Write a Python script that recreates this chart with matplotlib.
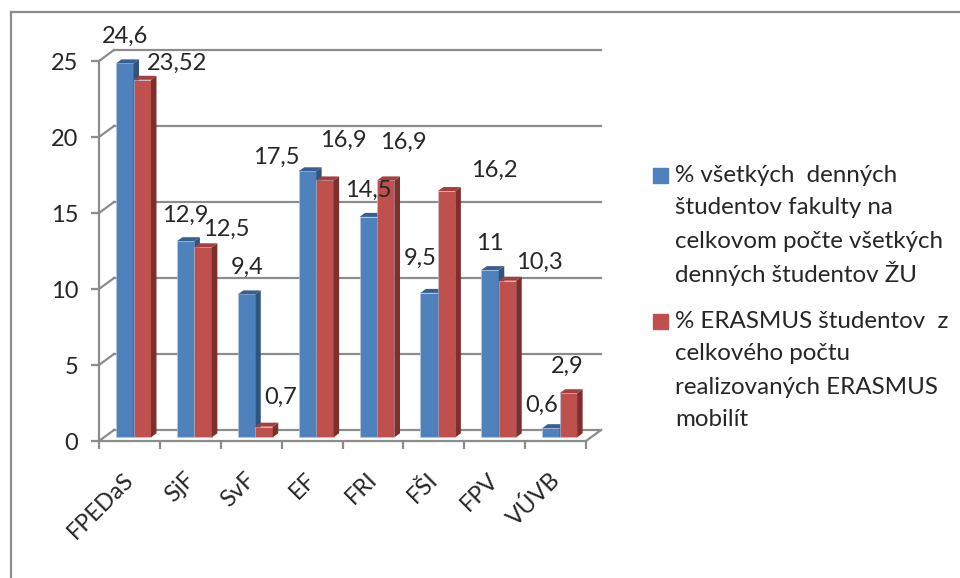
import matplotlib
matplotlib.use('Agg')
import matplotlib.pyplot as plt
from matplotlib.lines import Line2D
from matplotlib.patches import Rectangle

faculties = ['FPEDaS', 'SjF', 'SvF', 'EF', 'FRI', 'FŠI', 'FPV', 'VÚVB']
students = [24.6, 12.9, 9.4, 17.5, 14.5, 9.5, 11, 0.6]
erasmus = [23.52, 12.5, 0.7, 16.9, 16.9, 16.2, 10.3, 2.9]
students_text = ['24,6', '12,9', '9,4', '17,5', '14,5', '9,5', '11', '0,6']
erasmus_text = ['23,52', '12,5', '0,7', '16,9', '16,9', '16,2', '10,3', '2,9']
legend_students = ['% všetkých  denných', 'študentov fakulty na', 'celkovom počte všetkých', 'denných študentov ŽU']
legend_erasmus = ['% ERASMUS študentov  z', 'celkového počtu', 'realizovaných ERASMUS', 'mobilít']

# label shift from bar top, in pixels
students_shift = [(0, 27), (0, 26), (1, 27), (-31, 14), (0, 27), (-9, 35), (0, 27), (-9, 23)]
erasmus_shift = [(35, 16), (23, 18), (17, 29), (18, 40), (18, 38), (48, 21), (32, 18), (-1, 27)]

plt.rcParams['font.family'] = ['Lato', 'DejaVu Sans']
W, H = 960, 578
GREY = '#8c8c8c'
TXT = '#262626'
FS = 17
LEG_FS = 17.4

fig = plt.figure(figsize=(W / 100, H / 100), dpi=100)
ax = fig.add_axes([99 / W, 1 - 441 / H, 487 / W, 380 / H])
ax.set_xlim(0, 8)
ax.set_ylim(0, 25)

# pixel -> data sizes of the fake 3d look
px_x = 8 / 487
px_y = 25 / 380
wall_dx, wall_dy = 15 * px_x, 11 * px_y
bar_dx, bar_dy = 5.5 * px_x, 4 * px_y
base = 3.7 * px_y
bar_w = 0.287
bar_off = 0.28


def bar3d(x0, vals, front, side, top, shifts, texts):
    for i, v in enumerate(vals):
        left = i + x0
        right = left + bar_w
        ax.bar(left, v, bar_w, bottom=base, align='edge', color=front, edgecolor='#b9cde5',
               linewidth=0.4, zorder=3, clip_on=False)
        ax.fill([right, right + bar_dx, right + bar_dx, right],
                [base, base + bar_dy, base + v + bar_dy, base + v],
                color=side, lw=0, zorder=3, clip_on=False)
        ax.fill([left, left + bar_dx, right + bar_dx, right],
                [base + v, base + v + bar_dy, base + v + bar_dy, base + v],
                color=top, lw=0, zorder=3, clip_on=False)
        ax.annotate(texts[i], (left + bar_w / 2, base + v), xytext=(shifts[i][0] * 0.72, shifts[i][1] * 0.72),
                    textcoords='offset points', ha='center', va='center', fontsize=FS, color=TXT, zorder=5)


# back wall, floor edge and slanted links
for v in range(0, 26, 5):
    ax.plot([wall_dx, 8 + wall_dx], [v + wall_dy, v + wall_dy], color=GREY, lw=1.6, zorder=1, clip_on=False)
    ax.plot([0, wall_dx], [v, v + wall_dy], color=GREY, lw=1.6, zorder=1, clip_on=False)
ax.plot([8, 8 + wall_dx], [0, wall_dy], color=GREY, lw=1.6, zorder=1, clip_on=False)

bar3d(bar_off, students, '#4f81bd', '#2f5480', '#375f8f', students_shift, students_text)
bar3d(bar_off + bar_w, erasmus, '#c0504d', '#7c2f2d', '#a33f3c', erasmus_shift, erasmus_text)

for s in ['top', 'right']:
    ax.spines[s].set_visible(False)
for s in ['left', 'bottom']:
    ax.spines[s].set_color(GREY)
    ax.spines[s].set_linewidth(1.6)

ax.set_yticks(range(0, 26, 5))
ax.set_xticks(range(9))
ax.set_xticklabels([])
ax.set_xticks([i + 0.39 for i in range(8)], faculties, minor=True)
ax.tick_params(axis='x', which='major', length=6, width=1.6, color=GREY)
ax.tick_params(axis='x', which='minor', length=0, pad=20)
ax.tick_params(axis='y', length=6, width=1.6, color=GREY, pad=9)
ax.tick_params(axis='both', which='both', labelsize=FS, labelcolor=TXT)
for lab in ax.get_xticklabels(minor=True):
    lab.set_rotation(45)
    lab.set_ha('right')
    lab.set_rotation_mode('anchor')

# outer frame, open on the right and bottom
fig.add_artist(Line2D([11 / W, 11 / W], [0, 1 - 12 / H], color=GREY, lw=1.6))
fig.add_artist(Line2D([11 / W, 1], [1 - 12 / H, 1 - 12 / H], color=GREY, lw=1.6))


# legend is laid out by hand, marker sits on the first line
def legend_block(lines, y_first, color):
    fig.add_artist(Rectangle((653 / W, 1 - (y_first + 8) / H), 15 / W, 15 / H, color=color,
                             transform=fig.transFigure))
    for n, line in enumerate(lines):
        fig.text(675 / W, 1 - (y_first + n * 33) / H, line, fontsize=LEG_FS, color=TXT, va='center', ha='left')


legend_block(legend_students, 175, '#4f81bd')
legend_block(legend_erasmus, 321, '#c0504d')

fig.savefig('out.png', dpi=100)
